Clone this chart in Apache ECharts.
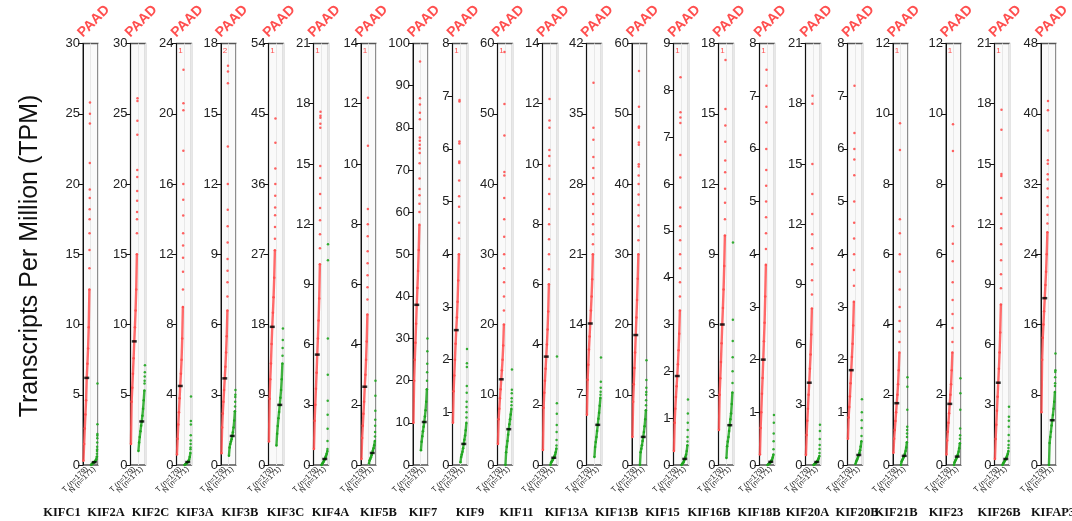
<!DOCTYPE html>
<html>
<head>
    <meta charset="utf-8">
    <title>ECharts</title>
    <script src="https://cdn.jsdelivr.net/npm/echarts@6/dist/echarts.min.js"></script>
    <style>
        body { margin: 0; background: #fff; }
    </style>
</head>
<body>
<div id="main" style="width: 1072px;height:521px;"></div>
<script type="text/javascript">
    // genes and y-axis ranges
    var genes = ['KIFC1', 'KIF2A', 'KIF2C', 'KIF3A', 'KIF3B', 'KIF3C', 'KIF4A', 'KIF5B', 'KIF7', 'KIF9', 'KIF11',
        'KIF13A', 'KIF13B', 'KIF15', 'KIF16B', 'KIF18B', 'KIF20A', 'KIF20B', 'KIF21B', 'KIF23', 'KIF26B', 'KIFAP3'];
    var yMax = [30, 30, 24, 18, 54, 21, 14, 100, 8, 60, 14, 42, 60, 9, 18, 8, 21, 8, 12, 12, 21, 48];
    var yStep = [5, 5, 4, 3, 9, 3, 2, 10, 1, 10, 2, 7, 10, 1, 3, 1, 3, 1, 2, 2, 3, 8];
    var groupLabels = ['T (n=179)', 'N (n=171)'];
    var cancer = 'PAAD';
    // points above the axis max (count shown at top)
    var overflow = [0, 0, 1, 2, 1, 1, 1, 0, 1, 1, 0, 0, 0, 1, 1, 1, 0, 0, 1, 1, 1, 0];

    // tumour: sorted values at ranks 0%,10%,...,90%
    var tumorQ = [
        [0.3, 1.5, 2.6, 3.6, 4.6, 6.2, 7.2, 8.3, 9.8, 12.5],
        [1.5, 4.5, 5.5, 6.5, 7.6, 8.8, 9.8, 11, 12.5, 15],
        [0.6, 1.5, 2.3, 3.0, 3.8, 4.5, 5.2, 6.0, 7.2, 9.0],
        [0.5, 1.6, 2.2, 2.7, 3.2, 3.7, 4.2, 4.8, 5.5, 6.6],
        [3, 8.5, 11, 13, 15.5, 17.7, 19.5, 21.5, 24, 27.5],
        [0.8, 2.2, 3.0, 3.8, 4.6, 5.5, 6.3, 7.2, 8.3, 10],
        [0.2, 0.9, 1.3, 1.7, 2.1, 2.6, 3.0, 3.5, 4.1, 5.0],
        [10, 20, 25, 29, 33.5, 38, 42, 46, 51, 57],
        [0.8, 1.4, 1.7, 2.0, 2.3, 2.56, 2.8, 3.1, 3.5, 4.0],
        [3, 6.5, 8, 9.5, 10.8, 12.2, 13.5, 15, 17, 20],
        [0.5, 1.9, 2.4, 2.8, 3.2, 3.6, 4.0, 4.5, 5.1, 6.0],
        [5, 8.5, 10, 11.5, 12.8, 14.1, 15.4, 16.8, 18.5, 21],
        [4, 9, 11.5, 13.8, 16, 18.5, 21, 23.5, 26.5, 30],
        [0.3, 0.9, 1.2, 1.45, 1.68, 1.9, 2.15, 2.45, 2.8, 3.3],
        [1.5, 3.0, 3.7, 4.4, 5.2, 6.0, 6.7, 7.5, 8.5, 9.8],
        [0.2, 0.7, 1.0, 1.35, 1.65, 2.0, 2.35, 2.7, 3.2, 3.8],
        [0.5, 1.5, 2.2, 2.8, 3.5, 4.1, 4.8, 5.5, 6.5, 7.8],
        [0.5, 0.9, 1.1, 1.3, 1.55, 1.8, 2.05, 2.3, 2.65, 3.1],
        [0.35, 0.75, 1.0, 1.25, 1.5, 1.76, 2.0, 2.3, 2.7, 3.2],
        [0.3, 0.7, 0.95, 1.2, 1.47, 1.74, 2.0, 2.3, 2.7, 3.2],
        [0.3, 1.3, 2.0, 2.7, 3.4, 4.1, 4.8, 5.6, 6.6, 8.0],
        [6, 12, 14.5, 16, 17.5, 19, 20.5, 22, 24, 26.5]
    ];
    // tumour: top 10% points
    var tumorTail = [
        [14, 15.3, 16.5, 17.5, 18.2, 19, 19.6, 21.5, 24.3, 25.0, 25.8],
        [16.5, 17.5, 18, 18.8, 19.5, 20.5, 21, 23.5, 24.5, 25.9, 26.1],
        [10, 11, 11.8, 12.5, 13.2, 14.2, 15.1, 16, 17.9, 20.2, 20.6, 22.5],
        [7.2, 7.8, 8.3, 8.8, 9.5, 10.2, 10.9, 12.0, 13.6, 16.3, 16.8, 17.05],
        [29, 30.5, 32, 33, 34.5, 36, 38, 41.3, 44.4],
        [10.8, 11.5, 12.2, 12.8, 13.5, 14.3, 14.9, 16.8, 17.0, 17.3, 17.4, 17.6],
        [5.5, 5.9, 6.3, 6.7, 7.1, 7.6, 8.0, 8.5, 10.6, 12.2],
        [60, 62, 64, 65.5, 68, 71.6, 74, 75.1, 76, 76.9, 77.7, 82, 83.6, 85.5, 87, 95.7],
        [4.3, 4.6, 4.9, 5.1, 5.4, 5.73, 5.76, 6.1, 6.14, 6.9, 6.93],
        [22, 24, 26, 28, 30, 32.5, 35, 38, 41.2, 41.7, 46.9, 51.4, 58.8],
        [6.5, 7.0, 7.5, 8.0, 8.5, 9.0, 9.5, 9.94, 10.26, 10.46, 11.2, 11.44, 12.16],
        [22, 23, 24, 25, 26, 27, 28.6, 29.6, 30.7, 32.4, 33.6, 38.1],
        [32, 34, 35.5, 37, 38.5, 40, 41.2, 42.5, 42.8, 45.6, 45.9, 48, 48.2, 51, 56.1],
        [3.6, 3.9, 4.2, 4.5, 4.8, 5.1, 5.5, 6.14, 6.62, 7.3, 7.42, 7.53, 8.28],
        [10.5, 11.2, 11.8, 12.5, 13.0, 13.8, 14.5, 15.2, 17.3],
        [4.1, 4.4, 4.7, 5.0, 5.3, 5.6, 6.0, 6.5, 6.8, 7.2, 7.5],
        [8.5, 9.2, 10, 10.8, 11.5, 12.5, 13.5, 15, 18.0, 18.4],
        [3.4, 3.7, 4.0, 4.3, 4.6, 5.0, 5.5, 5.8, 6.0, 6.3, 7.2],
        [3.5, 3.8, 4.1, 4.5, 5.0, 5.5, 6.0, 6.6, 7.0, 8.97, 9.73],
        [3.5, 3.9, 4.3, 4.7, 5.2, 5.8, 6.3, 6.8, 8.94, 9.7],
        [8.8, 9.5, 10.2, 11, 11.8, 12.5, 13.3, 14.4, 14.5, 16.7, 17.7],
        [27.5, 28.5, 29.5, 30.5, 31.5, 32.5, 33.1, 34.3, 34.7, 38.1, 40.4, 41.45]
    ];
    // normal: sorted values at ranks 0%,10%,...,90%
    var normalQ = [
        [0, 0.05, 0.1, 0.13, 0.16, 0.2, 0.25, 0.3, 0.4, 0.6],
        [1.0, 1.6, 2.0, 2.4, 2.8, 3.1, 3.5, 4.0, 4.6, 5.3],
        [0, 0.03, 0.06, 0.09, 0.12, 0.17, 0.22, 0.3, 0.45, 0.7],
        [0.4, 0.75, 0.9, 1.0, 1.1, 1.24, 1.4, 1.6, 1.9, 2.3],
        [2.5, 4, 5, 6, 6.8, 7.7, 8.6, 9.6, 11, 13],
        [0, 0.05, 0.1, 0.15, 0.22, 0.3, 0.38, 0.46, 0.56, 0.7],
        [0.05, 0.15, 0.2, 0.26, 0.32, 0.4, 0.48, 0.56, 0.66, 0.8],
        [3.5, 5.5, 6.8, 8, 9.1, 10.2, 11.5, 13, 15, 18],
        [0.05, 0.15, 0.2, 0.25, 0.32, 0.4, 0.48, 0.56, 0.66, 0.8],
        [0, 1.8, 2.6, 3.4, 4.3, 5.1, 5.8, 6.5, 7.2, 8.0],
        [0, 0.08, 0.12, 0.16, 0.2, 0.24, 0.28, 0.34, 0.42, 0.55],
        [0.8, 1.8, 2.3, 2.8, 3.4, 4.0, 4.6, 5.2, 5.9, 6.7],
        [0, 1.8, 2.3, 2.8, 3.4, 4.0, 4.7, 5.5, 6.5, 7.8],
        [0, 0.02, 0.04, 0.06, 0.09, 0.13, 0.17, 0.22, 0.3, 0.42],
        [0.3, 0.8, 1.0, 1.2, 1.45, 1.7, 1.95, 2.2, 2.6, 3.1],
        [0, 0.01, 0.02, 0.03, 0.04, 0.06, 0.08, 0.1, 0.14, 0.2],
        [0, 0.03, 0.05, 0.08, 0.11, 0.15, 0.2, 0.26, 0.34, 0.45],
        [0.02, 0.06, 0.09, 0.12, 0.15, 0.19, 0.23, 0.28, 0.35, 0.45],
        [0, 0.1, 0.14, 0.18, 0.22, 0.26, 0.32, 0.4, 0.5, 0.65],
        [0, 0.08, 0.12, 0.16, 0.2, 0.24, 0.3, 0.38, 0.48, 0.62],
        [0, 0.08, 0.13, 0.18, 0.24, 0.3, 0.37, 0.45, 0.55, 0.7],
        [0, 2.5, 3.2, 3.8, 4.5, 5.1, 5.7, 6.4, 7.2, 8.3]
    ];
    // normal: top 10% points
    var normalTail = [
        [0.8, 1.0, 1.1, 1.3, 1.6, 1.9, 2.1, 2.2, 2.9, 5.8],
        [5.8, 6.0, 6.3, 6.6, 7.1],
        [0.9, 1.0, 1.2, 1.4, 1.7, 2.3, 2.5, 3.9],
        [2.5, 2.7, 2.9, 3.0, 3.2],
        [14, 15, 16, 17.5],
        [0.8, 1.2, 1.8, 2.5, 3.2, 4.5, 6.3, 10.2, 11.0],
        [0.95, 1.1, 1.3, 1.5, 1.8, 2.3, 2.8],
        [20, 22, 24, 27, 30],
        [0.9, 1.0, 1.1, 1.2, 1.37, 1.5, 1.86, 1.93, 2.2],
        [8.5, 9.0, 9.5, 10.2, 10.7, 13.6],
        [0.65, 0.83, 1.1, 1.33, 1.7, 2.05, 3.6],
        [7.0, 7.3, 7.7, 8.3, 10.7],
        [8.5, 9.2, 10.0, 10.4, 11.0, 12.1, 14.9],
        [0.5, 0.6, 0.75, 0.9, 1.1, 1.4],
        [3.5, 4.0, 4.6, 5.3, 6.2, 9.5],
        [0.3, 0.45, 0.6, 0.8, 0.95],
        [0.6, 0.8, 1.0, 1.3, 1.7, 2.0],
        [0.55, 0.7, 0.85, 1.0, 1.25],
        [0.8, 0.9, 1.0, 1.09, 1.57, 2.23, 2.5],
        [0.75, 0.85, 1.04, 1.57, 2.04, 2.47],
        [0.85, 1.0, 1.2, 1.5, 1.9, 2.2, 2.4, 2.9],
        [9.0, 9.3, 10.0, 10.6, 10.8, 12.7]
    ];

    // layout (pixels)
    var boxLeft = [83, 130.5, 176.5, 221, 268.5, 313.5, 361, 413, 452.5, 497.5, 542.5, 586.5, 632, 673.5,
        718.5, 759.5, 805.5, 847.5, 893, 946, 994.5, 1041];
    var geneX = [62, 106, 150.5, 195, 240, 285.5, 330.5, 378.5, 423, 470, 516.5, 566.5, 616.5, 662.5,
        709, 759, 807.5, 857, 896, 946, 999, 1053];
    var boxW = 15, plotTop = 43.5, plotH = 421.5;
    var red = '#ff4f4f', green = '#1fa61f';

    var myChart = echarts.init(document.getElementById('main'));

    var grids = [], xAxes = [], yAxes = [], series = [], graphics = [];

    function rankX(g, f) {
        return g + 0.06 + 0.88 * f;
    }

    genes.forEach(function (gene, i) {
        grids.push({
            left: boxLeft[i], top: plotTop, width: boxW, height: plotH,
            show: true, borderColor: '#555', borderWidth: 1.3, backgroundColor: '#fafafa'
        });
        xAxes.push({
            type: 'value', gridIndex: i, min: 0, max: 2, show: false, position: 'top'
        });
        xAxes.push({
            type: 'category', gridIndex: i, data: groupLabels, boundaryGap: true, position: 'bottom',
            axisLine: {show: false}, axisTick: {show: false},
            axisLabel: {rotate: 45, fontSize: 7.5, margin: 3, color: '#222', fontFamily: 'Liberation Sans', interval: 0},
            splitLine: {show: true, lineStyle: {color: '#e8e8e8', width: 1}}
        });
        yAxes.push({
            type: 'value', gridIndex: i, min: 0, max: yMax[i], interval: yStep[i],
            axisLine: {show: true, lineStyle: {color: '#111', width: 1}},
            axisTick: {show: true, length: 5, lineStyle: {color: '#111'}},
            axisLabel: {fontSize: 13, color: '#222', margin: 3, fontFamily: 'Liberation Sans'},
            splitLine: {show: false}
        });

        [[tumorQ[i], tumorTail[i], red], [normalQ[i], normalTail[i], green]].forEach(function (grp, g) {
            var q = grp[0], tail = grp[1], color = grp[2];
            series.push({
                type: 'line', xAxisIndex: 2 * i, yAxisIndex: i, silent: true,
                data: q.map(function (v, k) { return [rankX(g, k / 10), v]; }),
                symbol: 'circle', symbolSize: 2.5, showSymbol: true,
                itemStyle: {color: color}, lineStyle: {color: color, width: 2.4, opacity: 0.85},
                z: 3
            });
            series.push({
                type: 'scatter', xAxisIndex: 2 * i, yAxisIndex: i, silent: true,
                data: tail.map(function (v, j) { return [rankX(g, 0.9 + 0.1 * (j + 1) / (tail.length + 1)), v]; }),
                symbol: 'circle', symbolSize: 2.5,
                itemStyle: {color: color, opacity: 0.9},
                z: 3
            });
            // median marker
            series.push({
                type: 'scatter', xAxisIndex: 2 * i, yAxisIndex: i, silent: true,
                data: [[rankX(g, 0.5), q[5]]],
                symbol: 'rect', symbolSize: [5, 2.5],
                itemStyle: {color: '#000'},
                z: 5
            });
        });

        graphics.push({
            type: 'text', x: boxLeft[i] + 2, y: 40, rotation: Math.PI / 4,
            style: {text: cancer, fill: red, font: 'bold 14px "Liberation Sans"', textAlign: 'left', textVerticalAlign: 'bottom'}
        });
        if (overflow[i] > 0) {
            graphics.push({
                type: 'text', x: boxLeft[i] + 4, y: 51,
                style: {text: String(overflow[i]), fill: red, font: '8px "Liberation Sans"', textAlign: 'center', textVerticalAlign: 'middle'}
            });
        }
        graphics.push({
            type: 'text', x: geneX[i], y: 513,
            style: {text: gene, fill: '#111', font: 'bold 12.5px "Liberation Serif"', textAlign: 'center', textVerticalAlign: 'middle'}
        });
    });

    graphics.push({
        type: 'text', x: 30, y: 256, rotation: Math.PI / 2,
        style: {text: 'Transcripts Per Million (TPM)', fill: '#111', font: '25px "Liberation Sans"', textAlign: 'center', textVerticalAlign: 'middle'}
    });

    myChart.setOption({
        animation: false,
        grid: grids,
        xAxis: xAxes,
        yAxis: yAxes,
        series: series,
        graphic: graphics
    });
</script>
</body>
</html>
